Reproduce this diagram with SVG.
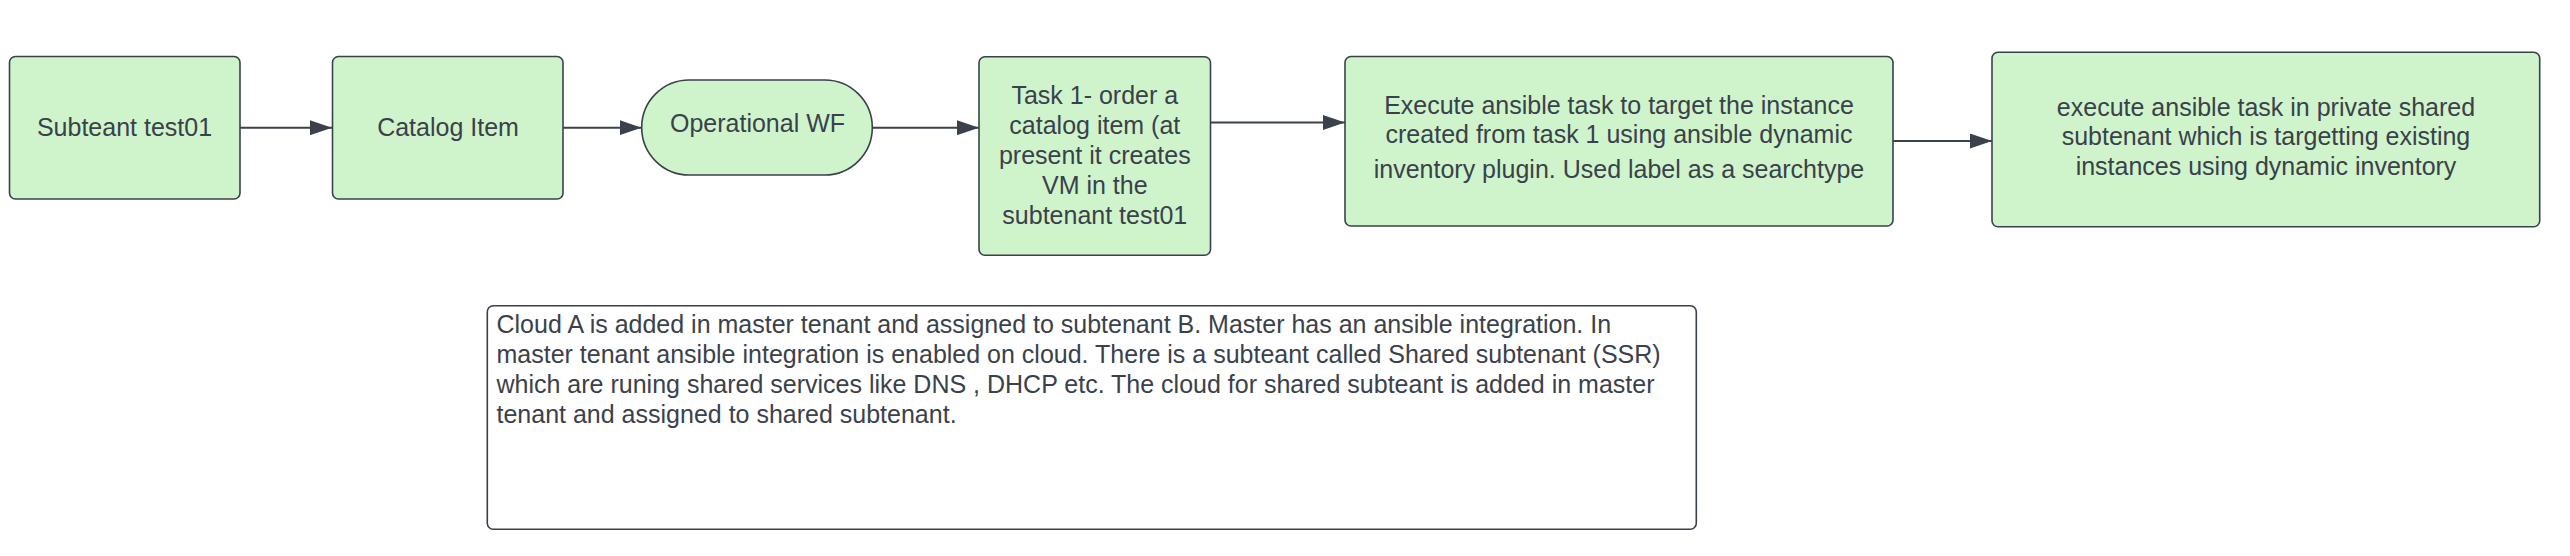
<svg xmlns="http://www.w3.org/2000/svg" width="2570" height="556" viewBox="0 0 2570 556">
  <style>
    .node { fill: #cff4cc; stroke: #3a414a; stroke-width: 1.6; }
    .note { fill: #ffffff; stroke: #3a414a; stroke-width: 1.6; }
    .lbl { font-family: "Liberation Sans", Arial, sans-serif; font-size: 25px; fill: #3a414a; text-anchor: middle; }
    .txt { font-family: "Liberation Sans", Arial, sans-serif; font-size: 25px; fill: #3a414a; }
    .edge { stroke: #3a414a; stroke-width: 2; fill: none; marker-end: url(#arrow); }
  </style>
  <defs>
    <marker id="arrow" markerUnits="userSpaceOnUse" viewBox="0 0 22 15" refX="22" refY="7.5" markerWidth="22" markerHeight="15" orient="auto">
      <path d="M0,0 L22,7.5 L0,15 Z" fill="#3a414a"/>
    </marker>
  </defs>
  <rect width="2570" height="556" fill="#ffffff"/>

  <g id="connectors">
    <line class="edge" x1="240" y1="127.7" x2="332" y2="127.7"/>
    <line class="edge" x1="563" y1="127.7" x2="641.5" y2="127.7"/>
    <line class="edge" x1="872.5" y1="127.7" x2="979" y2="127.7"/>
    <line class="edge" x1="1210.5" y1="122.5" x2="1345" y2="122.5"/>
    <line class="edge" x1="1893" y1="141" x2="1992" y2="141"/>
  </g>

  <g id="node-subteant">
    <rect class="node" x="9.5" y="56.5" width="230.5" height="142.5" rx="6"/>
    <text class="lbl" x="124.5" y="135.7">Subteant test01</text>
  </g>

  <g id="node-catalog">
    <rect class="node" x="332.5" y="56.5" width="230.5" height="142.5" rx="6"/>
    <text class="lbl" x="448" y="135.7">Catalog Item</text>
  </g>

  <g id="node-operational">
    <rect class="node" x="641.7" y="80" width="230.6" height="95" rx="47.5"/>
    <text class="lbl" x="757.5" y="131.7">Operational WF</text>
  </g>

  <g id="node-task1">
    <rect class="node" x="979" y="56.7" width="231.5" height="198.5" rx="6"/>
    <text class="lbl" x="1094.8" y="104">Task 1- order a</text>
    <text class="lbl" x="1094.8" y="133.7">catalog item (at</text>
    <text class="lbl" x="1094.8" y="163.5">present it creates</text>
    <text class="lbl" x="1094.8" y="193.5">VM in the</text>
    <text class="lbl" x="1094.8" y="224">subtenant test01</text>
  </g>

  <g id="node-execute">
    <rect class="node" x="1345" y="56.5" width="548" height="169.5" rx="6"/>
    <text class="lbl" x="1619" y="114.3">Execute ansible task to target the instance</text>
    <text class="lbl" x="1619" y="143.3">created from task 1 using ansible dynamic</text>
    <text class="lbl" x="1619" y="178.3">inventory plugin. Used label as a searchtype</text>
  </g>

  <g id="node-private">
    <rect class="node" x="1992" y="52.3" width="547.7" height="174.4" rx="6"/>
    <text class="lbl" x="2266" y="115.7">execute ansible task in private shared</text>
    <text class="lbl" x="2266" y="145">subtenant which is targetting existing</text>
    <text class="lbl" x="2266" y="175">instances using dynamic inventory</text>
  </g>

  <g id="node-note">
    <rect class="note" x="487.3" y="305.7" width="1209" height="223.5" rx="6"/>
    <text class="txt" x="496.5" y="333.3">Cloud A is added in master tenant and assigned to subtenant B. Master has an ansible integration. In</text>
    <text class="txt" x="496.5" y="363.3">master tenant ansible integration is enabled on cloud. There is a subteant called Shared subtenant (SSR)</text>
    <text class="txt" x="496.5" y="393.3">which are runing shared services like DNS , DHCP etc. The cloud for shared subteant is added in master</text>
    <text class="txt" x="496.5" y="423.3">tenant and assigned to shared subtenant.</text>
  </g>
</svg>
